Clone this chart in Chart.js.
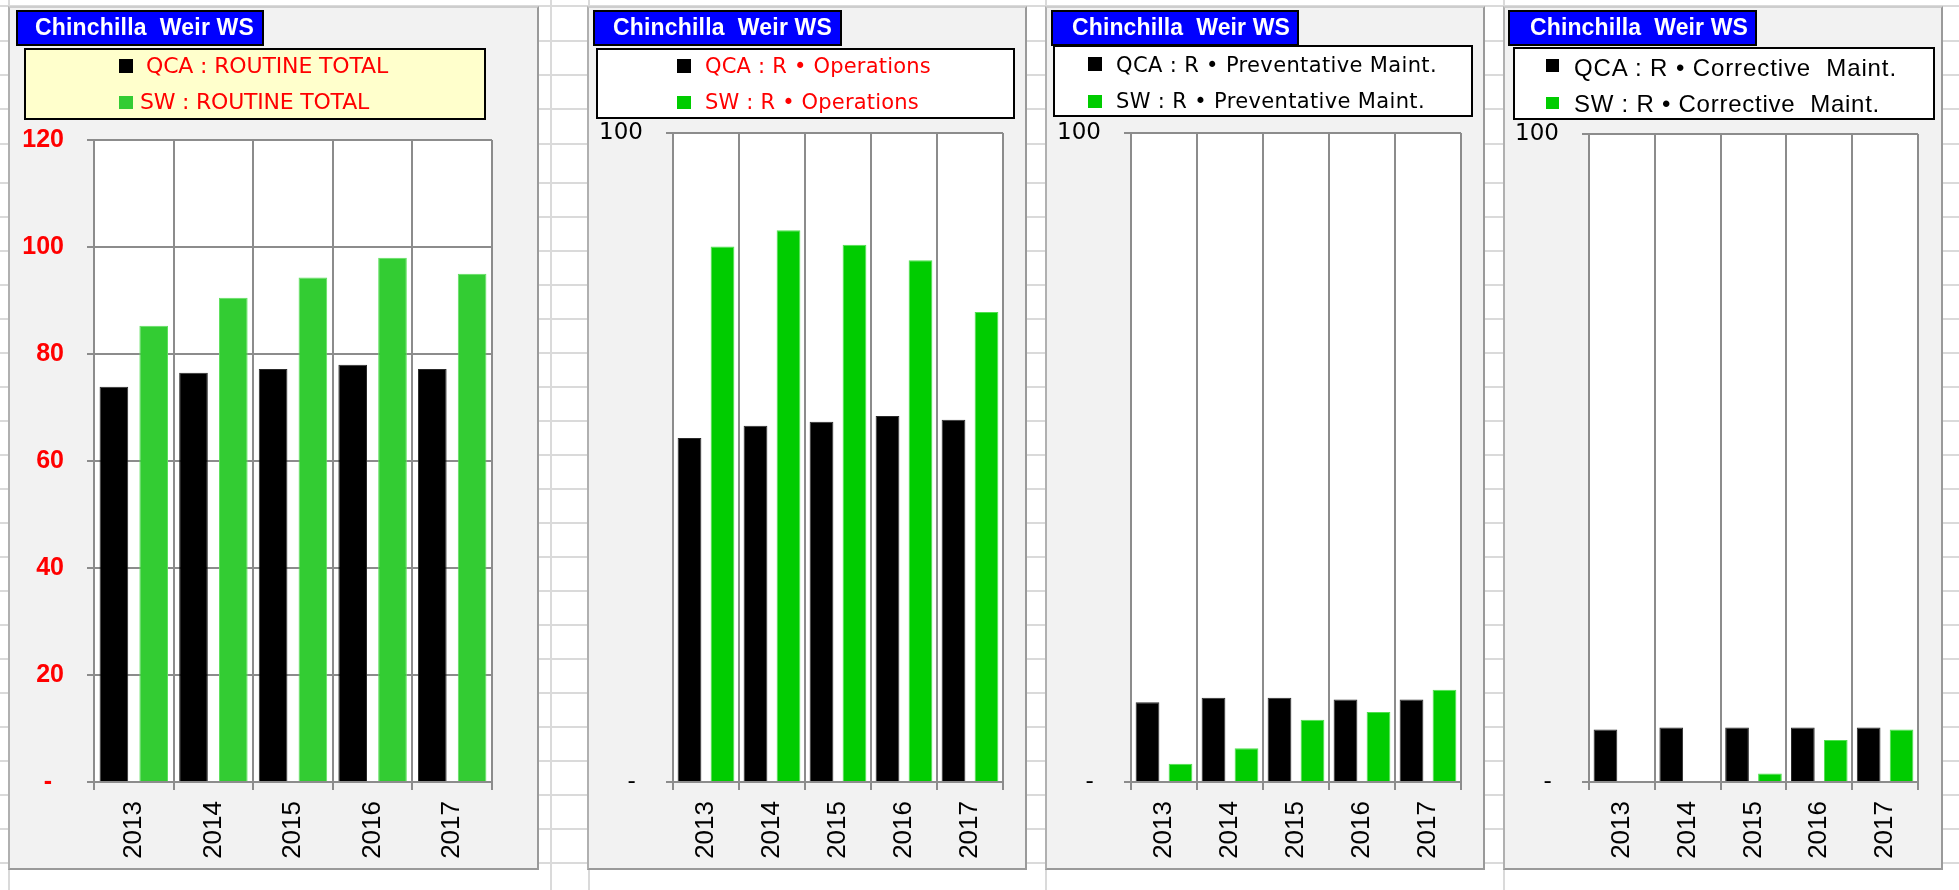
<!DOCTYPE html>
<html><head><meta charset="utf-8">
<script src="https://cdn.jsdelivr.net/npm/chart.js@4.4.0/dist/chart.umd.min.js"></script>
<style>
html,body{margin:0;padding:0;background:#fff;width:1959px;height:890px;overflow:hidden;position:relative}
.bgl{position:absolute;background:#dadada}
.panel{position:absolute;box-sizing:border-box;background:#f2f2f2;border-left:2px solid #b0b0b0;border-top:2px solid #cdcdcd;border-right:2px solid #9a9a9a;border-bottom:2px solid #9a9a9a}
canvas.c{position:absolute}
.tbox{position:absolute;box-sizing:border-box;background:#0000ff;border:2px solid #000}
.lbox{position:absolute;box-sizing:border-box;border:2px solid #000}
.mk{position:absolute}
.tx{position:absolute;white-space:pre;line-height:30px;height:30px}
</style></head><body>
<script>
// ---- data ----
const years = ['2013', '2014', '2015', '2016', '2017'];
const qcaRoutineTotal = [73.9, 76.5, 77.2, 78.0, 77.2];
const swRoutineTotal  = [85.3, 90.5, 94.3, 98.0, 95.0];
const qcaOperations   = [53.0, 54.9, 55.5, 56.4, 55.8];
const swOperations    = [82.5, 85.0, 82.8, 80.4, 72.4];
const qcaPreventative = [12.3, 13.0, 13.0, 12.7, 12.7];
const swPreventative  = [2.8, 5.2, 9.6, 10.8, 14.2];
const qcaCorrective   = [8.1, 8.4, 8.4, 8.4, 8.4];
const swCorrective    = [0, 0, 1.3, 6.5, 8.1];
const totalTicks = [0, 20, 40, 60, 80, 100, 120];
const pctTicks = [0, 100];
const chartTitle = 'Chinchilla  Weir WS';
const legendTotal = ['QCA : ROUTINE TOTAL', 'SW : ROUTINE TOTAL'];
const legendOps = ['QCA : R \u2022 Operations', 'SW : R \u2022 Operations'];
const legendPrev = ['QCA : R \u2022 Preventative Maint.', 'SW : R \u2022 Preventative Maint.'];
const legendCorr = ['QCA : R \u2022 Corrective  Maint.', 'SW : R \u2022 Corrective  Maint.'];

// ---- spreadsheet background ----
function bgLine(x, y, w, h){ const d=document.createElement('div'); d.className='bgl'; Object.assign(d.style,{left:x+'px',top:y+'px',width:w+'px',height:h+'px'}); document.body.appendChild(d); }
const rows = [5, 40, 74, 108, 143, 182, 216, 250, 284];
for (let y = 318; y < 890; y += 34) rows.push(y);
rows.forEach(y => bgLine(0, y, 1959, 2));
[8, 550, 588, 1045, 1503].forEach(x => bgLine(x, 0, 2, 890));

const gc = '#8c8c8c';
const panels = [
  {x:8, y:6, w:531, h:864, pl:94, pt:140, pr:492, pb:782, max:120, ticks:totalTicks,
   d1:qcaRoutineTotal, d2:swRoutineTotal, green:'#33cc33', gborder:'#5fe05f', lab:legendTotal,
   yFont:{family:'Liberation Sans', size:25, weight:'bold'}, yColor:'#ff0000', yPad:23, zero:'-\u2009 ',
   title:{x:16, y:10, w:248, h:36, tx:35, tw:219, fs:23},
   legend:{x:24, y:48, w:462, h:72, bg:'#ffffcc', color:'#ff0000', font:'DejaVu Sans', fs:22,
     mk:[[119,59,14,14],[119,96,14,13]], t:[[146,66,242],[140,102,229]]}},
  {x:587, y:6, w:440, h:864, pl:673, pt:133, pr:1003, pb:782, max:100, ticks:pctTicks,
   d1:qcaOperations, d2:swOperations, green:'#00cc00', gborder:'#4fe04f', lab:legendOps,
   yFont:{family:'DejaVu Sans', size:23}, yColor:'#000', yPad:23, zero:'- ',
   title:{x:593, y:10, w:249, h:36, tx:613, tw:219, fs:23},
   legend:{x:596, y:48, w:419, h:71, bg:'#fff', color:'#ff0000', font:'DejaVu Sans', fs:21,
     mk:[[677,59,14,14],[677,96,14,13]], t:[[705,66,226],[705,102,214]]}},
  {x:1045, y:6, w:440, h:864, pl:1131, pt:133, pr:1461, pb:782, max:100, ticks:pctTicks,
   d1:qcaPreventative, d2:swPreventative, green:'#00cc00', gborder:'#4fe04f', lab:legendPrev,
   yFont:{family:'DejaVu Sans', size:23}, yColor:'#000', yPad:23, zero:'- ',
   title:{x:1051, y:10, w:248, h:36, tx:1072, tw:218, fs:23},
   legend:{x:1053, y:45, w:420, h:72, bg:'#fff', color:'#000', font:'DejaVu Sans', fs:21,
     mk:[[1088,57,14,14],[1088,95,14,13]], t:[[1116,65,321],[1116,101,309]]}},
  {x:1503, y:6, w:440, h:864, pl:1589, pt:134, pr:1918, pb:782, max:100, ticks:pctTicks,
   d1:qcaCorrective, d2:swCorrective, green:'#00cc00', gborder:'#4fe04f', lab:legendCorr,
   yFont:{family:'DejaVu Sans', size:23}, yColor:'#000', yPad:23, zero:'- ',
   title:{x:1508, y:10, w:249, h:36, tx:1530, tw:218, fs:23},
   legend:{x:1513, y:47, w:422, h:73, bg:'#fff', color:'#000', font:'Liberation Sans', fs:24,
     mk:[[1546,59,13,13],[1546,97,13,12]], t:[[1574,68,323],[1574,104,306]]}}
];

const fitList = [];
function addText(str, x, cy, target, css){
  const s = document.createElement('div'); s.className='tx'; s.textContent = str;
  Object.assign(s.style, css, {left:x+'px', top:(cy-15)+'px'});
  document.body.appendChild(s); fitList.push([s, target, str.length]);
}
function fitAll(){
  fitList.forEach(([s, target, n]) => { s.style.letterSpacing = '0px'; const w = s.getBoundingClientRect().width; s.style.letterSpacing = ((target - w) / n) + 'px'; });
}
function box(cls, x, y, w, h, bg){ const d=document.createElement('div'); d.className=cls; Object.assign(d.style,{left:x+'px',top:y+'px',width:w+'px',height:h+'px'}); if(bg) d.style.background=bg; document.body.appendChild(d); return d; }

const plotBg = {id:'plotBg', beforeDraw(c){ const a=c.chartArea, ctx=c.ctx; ctx.save(); ctx.fillStyle='#fff'; ctx.fillRect(a.left,a.top,a.right-a.left,a.bottom-a.top); ctx.restore(); }};

panels.forEach(p => {
  box('panel', p.x, p.y, p.w, p.h);
  const cv = document.createElement('canvas'); cv.className='c'; cv.width=p.w; cv.height=p.h;
  cv.style.left=p.x+'px'; cv.style.top=p.y+'px'; cv.style.width=p.w+'px'; cv.style.height=p.h+'px';
  document.body.appendChild(cv);
  const yW = p.pl - p.x, xH = p.y + p.h - p.pb;
  new Chart(cv, {
    type:'bar',
    data:{labels:years, datasets:[
      {label:p.lab[0], data:p.d1, backgroundColor:'#000000', borderColor:'#2a2a2a', borderWidth:1},
      {label:p.lab[1], data:p.d2, backgroundColor:p.green, borderColor:p.gborder, borderWidth:1}
    ]},
    options:{
      responsive:false, animation:false, devicePixelRatio:1,
      layout:{padding:{left:0, top:p.pt-p.y, right:p.x+p.w-p.pr, bottom:0}},
      plugins:{legend:{display:false}, tooltip:{enabled:false}, title:{display:false}},
      datasets:{bar:{categoryPercentage:1.0, barPercentage:0.72}},
      scales:{
        x:{ grid:{color:gc, lineWidth:2, tickLength:8, offset:true}, border:{color:gc, width:2},
            ticks:{maxRotation:90, minRotation:90, padding:11, color:'#000', font:{family:'Liberation Sans', size:26}},
            afterFit(s){ s.height = xH; } },
        y:{ min:0, max:p.max,
            afterBuildTicks(s){ s.ticks = p.ticks.map(v => ({value:v})); },
            grid:{color:gc, lineWidth:2, tickLength:7}, border:{color:gc, width:2},
            ticks:{padding:p.yPad, color:p.yColor, font:p.yFont, callback:v => v === 0 ? p.zero : String(v)},
            afterFit(s){ s.width = yW; } }
      }
    },
    plugins:[plotBg]
  });
  // title box
  const t = p.title;
  const tb = box('tbox', t.x, t.y, t.w, t.h); tb.style.zIndex = 2;
  addText(chartTitle, t.tx, 27, t.tw, {color:'#fff', fontFamily:"'Liberation Sans', Arial, sans-serif", fontWeight:'bold', fontSize:t.fs+'px', zIndex:3});
  // legend box
  const L = p.legend;
  const lb = box('lbox', L.x, L.y, L.w, L.h, L.bg); lb.style.zIndex = 2;
  [ '#000000', p.green ].forEach((c, i) => { const m = box('mk', L.mk[i][0], L.mk[i][1], L.mk[i][2], L.mk[i][3], c); m.style.zIndex = 3; });
  p.lab.forEach((s, i) => addText(s, L.t[i][0], L.t[i][1], L.t[i][2], {color:L.color, fontFamily:"'"+L.font+"', sans-serif", fontSize:L.fs+'px', zIndex:3}));
});
fitAll();
if (document.fonts && document.fonts.ready) document.fonts.ready.then(fitAll);
</script>
</body></html>
